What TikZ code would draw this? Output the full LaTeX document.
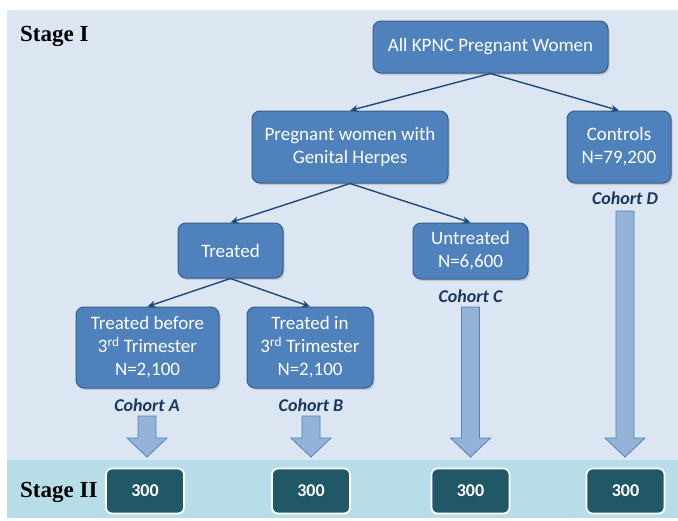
\documentclass[tikz,border=0pt]{standalone}
\usepackage{fontspec}
\setmainfont{Carlito}
\newfontfamily\stagefont{Liberation Serif}
\usetikzlibrary{arrows.meta,shadows}

\definecolor{panelblue}{HTML}{DCE6F2}
\definecolor{bandteal}{HTML}{B7DEE8}
\definecolor{boxblue}{HTML}{4F81BD}
\definecolor{boxedge}{HTML}{385D8A}
\definecolor{linkblue}{HTML}{1F497D}
\definecolor{arrowfill}{HTML}{95B3D7}
\definecolor{sampleteal}{HTML}{215868}
\definecolor{cohortnavy}{HTML}{17375E}

\tikzset{
  group/.style={draw=boxedge, line width=1pt, fill=boxblue, rounded corners=8pt,
    text=white, align=center, inner sep=0pt, font=\fontsize{19}{23}\selectfont,
    drop shadow={shadow xshift=1.5pt, shadow yshift=-2pt, opacity=0.3}},
  sample/.style={draw=white, line width=1.8pt, fill=sampleteal, rounded corners=6pt,
    text=white, inner sep=0pt, minimum width=78pt, minimum height=45pt,
    font=\fontsize{18}{22}\selectfont\bfseries},
  cohort/.style={text=cohortnavy, inner sep=0pt, font=\fontsize{18}{21}\selectfont\bfseries\itshape},
  link/.style={draw=linkblue, line width=1.4pt, -{Stealth[length=8pt,width=7pt]}},
  blockarrow/.style={draw=boxblue, line width=0.8pt, fill=arrowfill},
  stage/.style={anchor=west, inner sep=0pt, font=\stagefont\fontsize{23}{26}\selectfont\bfseries},
}

% shaft x, top y of a cohort arrow
\newcommand{\cohortarrow}[2]{%
  \draw[blockarrow] (#1-9,#2) -- (#1+9,#2) -- (#1+9,438) -- (#1+20,438)
    -- (#1,457) -- (#1-20,438) -- (#1-9,438) -- cycle;}

\begin{document}
\begin{tikzpicture}[x=1pt,y=-1pt]
  \useasboundingbox (0,0) rectangle (678,520);
  \fill[panelblue] (7,10) rectangle (678,460);
  \fill[bandteal] (7,460) rectangle (678,518);

  \node[stage] (stageone) at (20,36) {Stage I};
  \node[stage] (stagetwo) at (20,492) {Stage II};

  % stage I tree
  \node[group, minimum width=235pt, minimum height=52pt] (all) at (490.5,47) {All KPNC Pregnant Women};
  \node[group, minimum width=196pt, minimum height=72pt] (herpes) at (350,147) {Pregnant women with\\Genital Herpes};
  \node[group, minimum width=104pt, minimum height=72pt] (controls) at (619,147) {Controls\\N=79,200};
  \node[group, minimum width=105pt, minimum height=55pt] (treated) at (230.5,250.5) {Treated};
  \node[group, minimum width=115pt, minimum height=56pt] (untreated) at (470.5,251) {Untreated\\N=6,600};
  \node[group, minimum width=143pt, minimum height=81pt] (before) at (147.5,347.5) {Treated before\\3\textsuperscript{rd} Trimester\\N=2,100};
  \node[group, minimum width=126pt, minimum height=81pt] (during) at (310,347.5) {Treated in\\3\textsuperscript{rd} Trimester\\N=2,100};

  \draw[link] (all.south) -- (herpes.north);
  \draw[link] (all.south) -- (controls.north);
  \draw[link] (herpes.south) -- (treated.north);
  \draw[link] (herpes.south) -- (untreated.north);
  \draw[link] (treated.south) -- (before.north);
  \draw[link] (treated.south) -- (during.north);

  % cohorts
  \node[cohort] (cohorta) at (147,405) {Cohort A};
  \node[cohort] (cohortb) at (311,405) {Cohort B};
  \node[cohort] (cohortc) at (470.5,296) {Cohort C};
  \node[cohort] (cohortd) at (625,198) {Cohort D};

  \cohortarrow{147}{416}
  \cohortarrow{311}{416}
  \cohortarrow{470.5}{307}
  \cohortarrow{625}{211}

  % stage II samples
  \node[sample] (samplea) at (145,491) {300};
  \node[sample] (sampleb) at (311,491) {300};
  \node[sample] (samplec) at (470.5,491) {300};
  \node[sample] (sampled) at (625.5,491) {300};
\end{tikzpicture}
\end{document}
